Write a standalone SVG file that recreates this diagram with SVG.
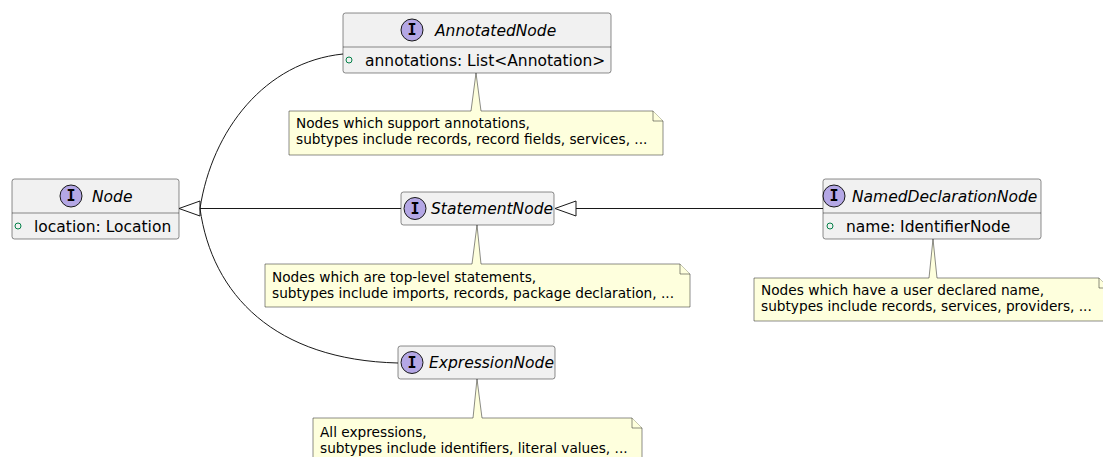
<svg xmlns="http://www.w3.org/2000/svg" width="1103" height="457" viewBox="0 0 1103 457">
<style>
.box{fill:#F1F1F1;stroke:#181818;stroke-width:0.5}
.sep{stroke:#181818;stroke-width:0.5}
.ic{fill:#B4A7E5;stroke:#181818;stroke-width:1}
.il{font-family:"DejaVu Sans Mono","Liberation Mono",monospace;font-weight:bold;font-size:15px;fill:#000;text-anchor:middle}
.nm{font-family:"DejaVu Sans","Liberation Sans",sans-serif;font-style:italic;font-size:15.5px;fill:#000}
.at{font-family:"DejaVu Sans","Liberation Sans",sans-serif;font-size:15.5px;fill:#000}
.vis{fill:none;stroke:#038048;stroke-width:1}
.note{fill:#FEFFDD;stroke:#181818;stroke-width:0.5}
.nt{font-family:"DejaVu Sans","Liberation Sans",sans-serif;font-size:13.7px;fill:#000}
.ln{fill:none;stroke:#181818;stroke-width:1}
.tri{fill:none;stroke:#181818;stroke-width:1}
</style>
<g id="connectors">
<path class="ln" d="M200,208.5 C212,130 265,62 343,54"/>
<path class="ln" d="M200,208.5 L401,208.5"/>
<path class="ln" d="M200,208.5 C212,295 275,360 398,363"/>
<polygon class="tri" points="179,208.5 200,201 200,216"/>
<path class="ln" d="M576,208.5 L823,208.5"/>
<polygon class="tri" points="555,208.5 576,201 576,216"/>
</g>
<g id="AnnotatedNode">
<rect class="box" x="343" y="13" width="268" height="60" rx="2.5"/>
<line class="sep" x1="343" y1="47" x2="611" y2="47"/>
<circle class="ic" cx="412" cy="30" r="11"/>
<text class="il" x="412" y="35">I</text>
<text class="nm" x="435" y="35.5">AnnotatedNode</text>
<circle class="vis" cx="349" cy="60" r="3"/>
<text class="at" x="365" y="65.5">annotations: List&lt;Annotation&gt;</text>
</g>
<g id="Node">
<rect class="box" x="12" y="179" width="167" height="60" rx="2.5"/>
<line class="sep" x1="12" y1="213" x2="179" y2="213"/>
<circle class="ic" cx="71" cy="196" r="11"/>
<text class="il" x="71" y="201">I</text>
<text class="nm" x="92" y="201.5">Node</text>
<circle class="vis" cx="18" cy="226" r="3"/>
<text class="at" x="34" y="231.5">location: Location</text>
</g>
<g id="StatementNode">
<rect class="box" x="401" y="192" width="153" height="33" rx="2.5"/>
<circle class="ic" cx="415" cy="208.5" r="11"/>
<text class="il" x="415" y="213.5">I</text>
<text class="nm" x="431" y="214">StatementNode</text>
</g>
<g id="NamedDeclarationNode">
<rect class="box" x="823" y="179" width="218" height="60" rx="2.5"/>
<line class="sep" x1="823" y1="213" x2="1041" y2="213"/>
<circle class="ic" cx="834" cy="196" r="11"/>
<text class="il" x="834" y="201">I</text>
<text class="nm" x="852" y="201.5">NamedDeclarationNode</text>
<circle class="vis" cx="830" cy="226" r="3"/>
<text class="at" x="846" y="231.5">name: IdentifierNode</text>
</g>
<g id="ExpressionNode">
<rect class="box" x="398" y="346" width="157" height="33" rx="2.5"/>
<circle class="ic" cx="412" cy="362.5" r="11"/>
<text class="il" x="412" y="367.5">I</text>
<text class="nm" x="429" y="368">ExpressionNode</text>
</g>
<g id="note1">
<path class="note" d="M289,111 L471,111 L476,73 L481,111 L653,111 L663,121 L663,155 L289,155 Z"/>
<path class="note" d="M653,111 L653,121 L663,121"/>
<text class="nt" x="296" y="128">Nodes which support annotations,</text>
<text class="nt" x="296" y="144">subtypes include records, record fields, services, ...</text>
</g>
<g id="note2">
<path class="note" d="M265,264 L472,264 L477,225 L481,264 L680,264 L690,274 L690,307 L265,307 Z"/>
<path class="note" d="M680,264 L680,274 L690,274"/>
<text class="nt" x="272" y="282">Nodes which are top-level statements,</text>
<text class="nt" x="272" y="298">subtypes include imports, records, package declaration, ...</text>
</g>
<g id="note3">
<path class="note" d="M754,278 L929,278 L933,239 L937,278 L1099,278 L1109,288 L1109,321 L754,321 Z"/>
<path class="note" d="M1099,278 L1099,288 L1109,288"/>
<text class="nt" x="761" y="295">Nodes which have a user declared name,</text>
<text class="nt" x="761" y="311">subtypes include records, services, providers, ...</text>
</g>
<g id="note4">
<path class="note" d="M313,418 L473,418 L477,379 L482,418 L632,418 L642,428 L642,462 L313,462 Z"/>
<path class="note" d="M632,418 L632,428 L642,428"/>
<text class="nt" x="320" y="437">All expressions,</text>
<text class="nt" x="320" y="453">subtypes include identifiers, literal values, ...</text>
</g>
</svg>
